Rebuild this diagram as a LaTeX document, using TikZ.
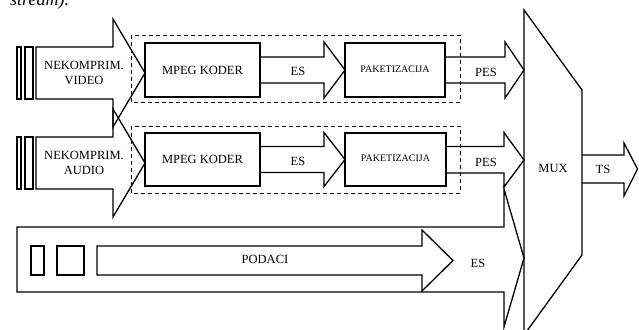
\documentclass[tikz,border=0pt]{standalone}
\usepackage{fontspec}
\setmainfont{Liberation Serif}
\begin{document}
\begin{tikzpicture}[x=1pt,y=-1pt,
  outl/.style={draw=black,line width=1.3pt,line join=miter},
  dashbox/.style={draw=black,line width=0.9pt,dash pattern=on 4pt off 3pt},
  lbl/.style={inner sep=0pt,font=\fontsize{12.5}{15}\selectfont,align=center},
  blockbox/.style={draw=black,line width=1.3pt,inner sep=0pt,outer sep=0pt,
    minimum height=54pt,font=\fontsize{12.5}{15}\selectfont}]
\useasboundingbox (0,0) rectangle (639,329);

% caption text cut off at the top, as in the reference
\node[anchor=base west,inner sep=0pt,font=\itshape\fontsize{18}{21}\selectfont] (cap) at (10,6) {stream).};

% dashed groups
\draw[dashbox] (131,35) rectangle (460,102);
\draw[dashbox] (131,126) rectangle (460,193);

% input arrows
\draw[outl] (17,47) rectangle (21,99);
\draw[outl] (25,47) rectangle (33,99);
\draw[outl] (36,47) -- (113,47) -- (113,19) -- (145,73) -- (113,127) -- (113,99) -- (36,99) -- cycle;
\node[lbl] (inv) at (84,73) {NEKOMPRIM.\\VIDEO};

\draw[outl] (17,137) rectangle (21,189);
\draw[outl] (25,137) rectangle (33,189);
\draw[outl] (36,137) -- (113,137) -- (113,109) -- (145,163) -- (113,217) -- (113,189) -- (36,189) -- cycle;
\node[lbl] (ina) at (84,163) {NEKOMPRIM.\\AUDIO};

% encoder and packetizer boxes
\node[blockbox,minimum width=115pt] (mk1) at (202.5,70) {MPEG KODER};
\node[blockbox,minimum width=100pt,font=\fontsize{10}{12}\selectfont] (pk1) at (395,70) {\raisebox{2pt}{PAKETIZACIJA}};
\node[blockbox,minimum width=115pt,minimum height=53pt] (mk2) at (202.5,159.5) {MPEG KODER};
\node[blockbox,minimum width=101pt,minimum height=53pt,font=\fontsize{10}{12}\selectfont] (pk2) at (395.5,159.5) {\raisebox{2pt}{PAKETIZACIJA}};

% mux
\coordinate (m1) at (524,70);
\coordinate (m2) at (524,160);
\coordinate (m3) at (524,258);
\draw[outl] (524,10) -- (582,90) -- (582,255) -- (524,335) -- cycle;
\node[lbl] (mux) at (553,168) {MUX};

% ES arrows
\draw[outl] (mk1.east) ++(0,-13) -- ++(64,0) -- ++(0,-15) -- (pk1.west) -- ++(-21,28) -- ++(0,-15) -- ++(-64,0);
\node[lbl] (es1) at (298,71) {ES};
\draw[outl] (mk2.east) ++(0,-13) -- ++(64,0) -- ++(0,-14) -- (pk2.west) -- ++(-21,27) -- ++(0,-14) -- ++(-64,0);
\node[lbl] (es2) at (298,161) {ES};

% PES arrows
\draw[outl] (pk1.east) ++(0,-13) -- ++(60,0) -- ++(0,-15) -- (m1) -- ++(-19,28) -- ++(0,-15) -- ++(-60,0);
\node[lbl] (pes1) at (486,72) {PES};
\draw[outl] (pk2.east) ++(0,-13) -- ++(58,0) -- ++(0,-14) -- (m2) -- ++(-20,27) -- ++(0,-14) -- ++(-58,0);
\node[lbl] (pes2) at (486,162) {PES};

% data arrow
\draw[outl] (17,227) -- (504,227) -- (504,189) -- (m3) -- (504,327) -- (504,292) -- (17,292) -- cycle;
\draw[outl] (31,246) rectangle (44,275);
\draw[outl] (57,246) rectangle (84,275);
\draw[outl] (97,246) -- (422,246) -- (422,230) -- (453,260.5) -- (422,291) -- (422,275) -- (97,275) -- cycle;
\node[lbl] (pod) at (265,259) {PODACI};
\node[lbl] (es3) at (478,263) {ES};

% TS arrow
\draw[outl] (582,155) -- (624,155) -- (624,143) -- (637.5,169) -- (624,196) -- (624,183) -- (582,183);
\node[lbl] (ts) at (603,169) {TS};
\end{tikzpicture}
\end{document}
